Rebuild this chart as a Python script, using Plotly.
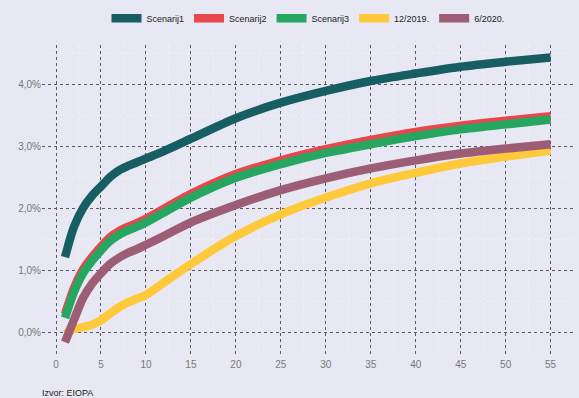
import plotly.graph_objects as go

maturity = [1, 2, 3, 4, 5, 6, 7, 8, 9, 10, 12, 15, 20, 25, 30, 35, 40, 45, 50, 55]
scenarij1 = [1.21, 1.70, 2.00, 2.20, 2.35, 2.50, 2.61, 2.68, 2.74, 2.80, 2.92, 3.12, 3.45, 3.70, 3.89, 4.05, 4.17, 4.28, 4.36, 4.43]
scenarij2 = [0.29, 0.71, 1.01, 1.21, 1.38, 1.53, 1.63, 1.70, 1.76, 1.83, 1.99, 2.23, 2.55, 2.77, 2.95, 3.10, 3.23, 3.33, 3.41, 3.48]
scenarij3 = [0.23, 0.65, 0.95, 1.15, 1.32, 1.47, 1.57, 1.64, 1.70, 1.77, 1.93, 2.17, 2.49, 2.71, 2.89, 3.03, 3.16, 3.27, 3.35, 3.43]
dec2019 = [-0.03, 0.05, 0.08, 0.12, 0.19, 0.30, 0.40, 0.48, 0.54, 0.60, 0.80, 1.10, 1.55, 1.90, 2.17, 2.40, 2.57, 2.72, 2.83, 2.93]
jun2020 = [-0.16, 0.20, 0.55, 0.78, 0.95, 1.10, 1.20, 1.28, 1.34, 1.41, 1.55, 1.77, 2.05, 2.29, 2.48, 2.64, 2.77, 2.88, 2.96, 3.03]

series = [
    ("Scenarij1", scenarij1, "#175E63"),
    ("Scenarij2", scenarij2, "#E8474B"),
    ("Scenarij3", scenarij3, "#27A661"),
    ("12/2019.", dec2019, "#FFC93C"),
    ("6/2020.", jun2020, "#9C5D75"),
]

x_ticks = list(range(0, 60, 5))
y_ticks = [0, 1, 2, 3, 4]
y_tick_labels = ["0,0%", "1,0%", "2,0%", "3,0%", "4,0%"]

bg = "#E7E8F4"
fig = go.Figure()
for name, vals, col in series:
    fig.add_trace(go.Scatter(
        x=maturity, y=vals, name=name, mode="lines",
        line=dict(color=col, width=8.5, shape="spline", smoothing=0.8),
    ))

fig.update_layout(
    width=579, height=398,
    paper_bgcolor=bg, plot_bgcolor=bg,
    margin=dict(l=42, r=5, t=45, b=41),
    font=dict(family="Liberation Sans, Arial, sans-serif", size=10, color="#666666"),
    showlegend=True,
    legend=dict(orientation="h", x=0.5, xanchor="center", y=0.9175, yanchor="bottom",
                yref="container", font=dict(size=9, color="#222222"),
                itemwidth=30, bgcolor="rgba(0,0,0,0)"),
    xaxis=dict(range=[-1.56, 57.6], tickvals=x_ticks, showgrid=True,
               gridcolor="#555a66", griddash="dot", gridwidth=1,
               zeroline=False, showline=False, ticks="", automargin=False,
               minor=dict(dtick=2.5, tick0=0, showgrid=True, gridcolor="#F2F1EE", gridwidth=1),
               tickfont=dict(size=10, color="#777777")),
    yaxis=dict(range=[-0.40, 4.63], tickvals=y_ticks, ticktext=y_tick_labels,
               showgrid=True, gridcolor="#555a66", griddash="dot", gridwidth=1,
               zeroline=False, showline=False, ticks="", automargin=False,
               minor=dict(dtick=0.5, tick0=0, showgrid=True, gridcolor="#F2F1EE", gridwidth=1),
               tickfont=dict(size=10, color="#777777")),
    annotations=[dict(text="Izvor: EIOPA", xref="paper", yref="paper", x=-0.003, y=-0.115,
                      xanchor="left", yanchor="middle", showarrow=False,
                      font=dict(size=9, color="#222222"))],
)
fig.write_html("out.html", config={"displayModeBar": False},
               post_script="document.body.style.margin='0';document.body.style.overflow='hidden';")
